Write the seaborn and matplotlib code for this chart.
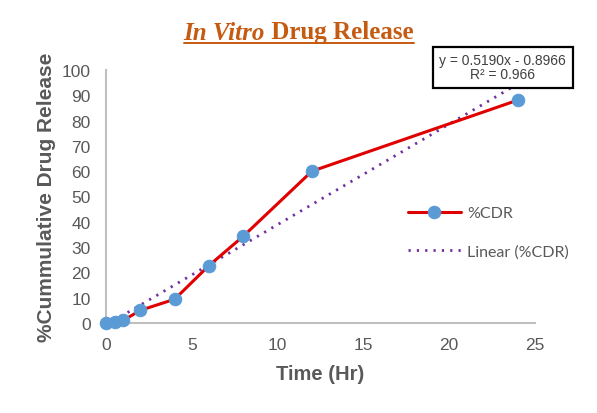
import numpy as np
import pandas as pd
import matplotlib
matplotlib.use("Agg")
import matplotlib.pyplot as plt
import seaborn as sns

# values
time_hr = [0, 0.5, 1, 2, 4, 6, 8, 12, 24]
cdr = [0, 0.3, 1.0, 5.0, 9.4, 22.7, 34.3, 60.0, 88.1]
x_ticks = [0, 5, 10, 15, 20, 25]
y_ticks = [0, 10, 20, 30, 40, 50, 60, 70, 80, 90, 100]
eq_text = "y = 0.5190x - 0.8966\nR² = 0.966"

df = pd.DataFrame({"Time": time_hr, "CDR": cdr})

# linear trend from the data
slope, intercept = np.polyfit(df["Time"], df["CDR"], 1)
trend = pd.DataFrame({"Time": [df["Time"].min(), df["Time"].max()]})
trend["CDR"] = slope * trend["Time"] + intercept

sns.set_theme(style="white")
plt.rcParams["font.family"] = ["Liberation Sans", "DejaVu Sans"]

fig = plt.figure(figsize=(5.97, 4.14), dpi=100)
ax = fig.add_axes([106 / 597, 0.2174, 429 / 597, 0.6111])

grey = "#595959"
sns.lineplot(data=df, x="Time", y="CDR", ax=ax, color="#E00000", linewidth=2.2,
             marker="o", markersize=9, markerfacecolor="#5B9BD5",
             markeredgecolor="#5B9BD5", label="%CDR", clip_on=False, zorder=3)
sns.lineplot(data=trend, x="Time", y="CDR", ax=ax, color="#7030A0", linewidth=2,
             linestyle=(0, (0.8, 2.2)), label="Linear (%CDR)", zorder=2)

ax.set_xlim(0, 25)
ax.set_ylim(0, 100)
ax.set_xticks(x_ticks)
ax.set_yticks(y_ticks)
ax.tick_params(axis="both", labelsize=12.5, labelcolor=grey, length=0)
ax.tick_params(axis="x", pad=10)
ax.tick_params(axis="y", pad=11)

for side in ["top", "right"]:
    ax.spines[side].set_visible(False)
for side in ["left", "bottom"]:
    ax.spines[side].set_color("#BFBFBF")
    ax.spines[side].set_linewidth(1.5)

ax.set_xlabel("Time (Hr)", fontsize=14.5, fontweight="bold", color=grey, labelpad=9)
ax.set_ylabel("%Cummulative Drug Release", fontsize=15, fontweight="bold",
              color=grey, labelpad=4)

leg = ax.legend(loc="center left", bbox_to_anchor=(0.67, 0.358), frameon=False,
                handlelength=3.3, handletextpad=0.4, labelspacing=1.5,
                prop={"family": ["Lato", "DejaVu Sans"], "size": 11.5})
for t in leg.get_texts():
    t.set_color(grey)

# equation box
ax.text(0.925, 1.01, eq_text, transform=ax.transAxes, ha="center", va="center",
        fontsize=10, color="#404040", linespacing=1.0, zorder=5,
        bbox=dict(boxstyle="square,pad=0.5", facecolor="white",
                  edgecolor="black", linewidth=1.6))

# title: italic part + bold part, underlined
title_color = "#C55A11"
base_y = 1 - 39.5 / 414
t1 = fig.text(0.5, base_y, "In Vitro", ha="right", va="baseline", fontsize=18,
              family="Liberation Serif", fontweight="bold", style="italic",
              color=title_color)
t2 = fig.text(0.5, base_y, " Drug Release", ha="left", va="baseline", fontsize=18,
              family="Liberation Serif", fontweight="bold", color=title_color)
fig.canvas.draw()
r = fig.canvas.get_renderer()
b1 = t1.get_window_extent(r).transformed(fig.transFigure.inverted())
b2 = t2.get_window_extent(r).transformed(fig.transFigure.inverted())
shift = 0.5 - (b1.x0 + b2.x1) / 2
t1.set_x(0.5 + shift)
t2.set_x(0.5 + shift)
ul_y = base_y - 4 / 414
fig.add_artist(plt.Line2D([b1.x0 + shift, b2.x1 + shift], [ul_y, ul_y],
                          transform=fig.transFigure, color=title_color, linewidth=1.4))

fig.savefig("out.png", dpi=100)
